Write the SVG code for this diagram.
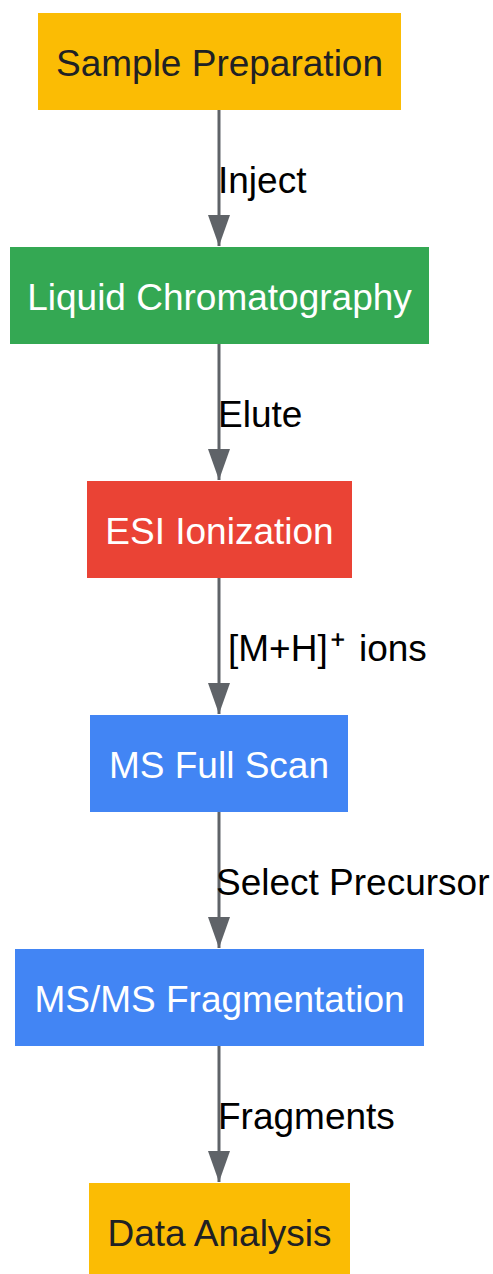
<svg xmlns="http://www.w3.org/2000/svg" width="493" height="1274" viewBox="0 0 493 1274">
<defs>
<style>
.n{font-family:"Liberation Sans",Arial,sans-serif;font-size:37px;text-anchor:middle}
.dark{fill:#202124}
.light{fill:#ffffff}
.lbl{font-family:"Liberation Sans",Arial,sans-serif;font-size:37px;fill:#000000}
.edge{stroke:#5f6368;stroke-width:3;fill:none}
.head{fill:#5f6368}
</style>
</defs>
<rect width="493" height="1274" fill="#ffffff"/>
<g id="connectors">
<line class="edge" x1="219" y1="110" x2="219" y2="246"/>
<path class="head" d="M208,215 L230,215 L219,246 Z"/>
<text class="lbl" x="218" y="193">Inject</text>
<line class="edge" x1="219" y1="344" x2="219" y2="480"/>
<path class="head" d="M208,449 L230,449 L219,480 Z"/>
<text class="lbl" x="218" y="427">Elute</text>
<line class="edge" x1="219" y1="578" x2="219" y2="714"/>
<path class="head" d="M208,683 L230,683 L219,714 Z"/>
<text class="lbl" x="228" y="661">[M+H]<tspan font-size="46" dx="2" dy="6">⁺</tspan><tspan dx="3" dy="-6"> ions</tspan></text>
<line class="edge" x1="219" y1="812" x2="219" y2="948"/>
<path class="head" d="M208,917 L230,917 L219,948 Z"/>
<text class="lbl" x="216" y="895">Select Precursor</text>
<line class="edge" x1="219" y1="1046" x2="219" y2="1182"/>
<path class="head" d="M208,1151 L230,1151 L219,1182 Z"/>
<text class="lbl" x="218" y="1129">Fragments</text>
</g>
<g id="sample-prep">
<rect x="38" y="13" width="363" height="97" fill="#fbbc04"/>
<text class="n dark" x="219.5" y="76">Sample Preparation</text>
</g>
<g id="liquid-chromatography">
<rect x="10" y="247" width="419" height="97" fill="#34a853"/>
<text class="n light" x="219.5" y="310">Liquid Chromatography</text>
</g>
<g id="esi-ionization">
<rect x="87" y="481" width="265" height="97" fill="#ea4335"/>
<text class="n light" x="219.5" y="544">ESI Ionization</text>
</g>
<g id="ms-full-scan">
<rect x="90" y="715" width="258" height="97" fill="#4285f4"/>
<text class="n light" x="219" y="778">MS Full Scan</text>
</g>
<g id="msms-fragmentation">
<rect x="15" y="949" width="409" height="97" fill="#4285f4"/>
<text class="n light" x="219.5" y="1012">MS/MS Fragmentation</text>
</g>
<g id="data-analysis">
<rect x="89" y="1183" width="261" height="97" fill="#fbbc04"/>
<text class="n dark" x="219.5" y="1246">Data Analysis</text>
</g>
</svg>
